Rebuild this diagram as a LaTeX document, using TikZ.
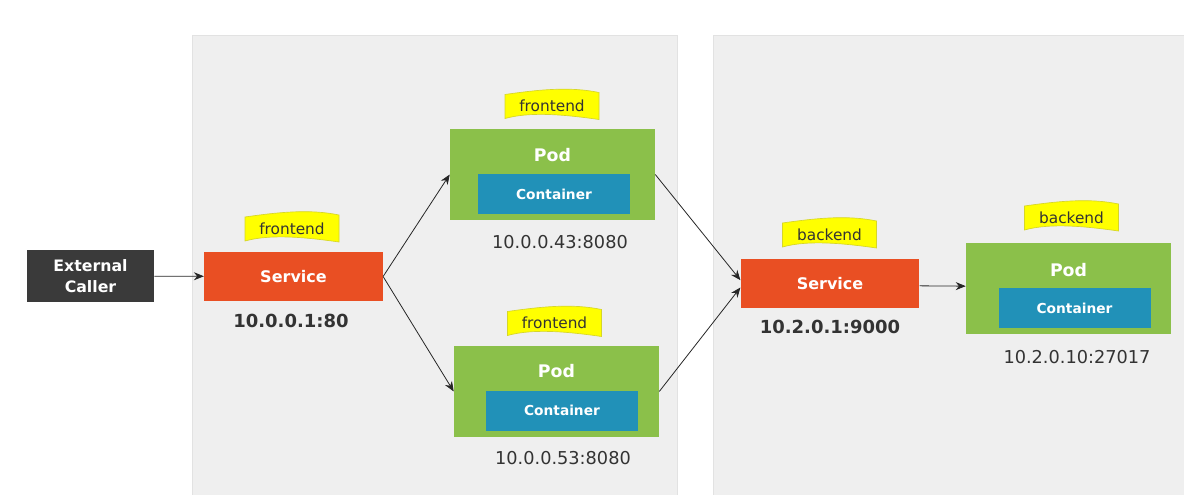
\documentclass[tikz,border=0pt]{standalone}
\usepackage{fontspec}
\setmainfont{DejaVu Sans}
\usetikzlibrary{arrows.meta}

\definecolor{panelgrey}{RGB}{239,239,239}
\definecolor{panelline}{RGB}{226,226,226}
\definecolor{svcorange}{RGB}{233,79,35}
\definecolor{podgreen}{RGB}{139,192,74}
\definecolor{ctrblue}{RGB}{33,145,184}
\definecolor{callergrey}{RGB}{58,58,58}
\definecolor{tagyellow}{RGB}{255,255,0}
\definecolor{tagline}{RGB}{214,214,40}
\definecolor{ipgrey}{RGB}{51,51,51}

\tikzset{
  panel/.style={fill=panelgrey, draw=panelline, line width=0.6pt},
  callerbox/.style={fill=callergrey, text=white, inner sep=0pt, minimum width=95.25pt, minimum height=38.25pt,
    align=center, font=\fontsize{11.8}{16}\selectfont\bfseries},
  svcbox/.style={fill=svcorange, text=white, inner sep=0pt, minimum width=134pt, minimum height=36.75pt,
    font=\fontsize{12}{14}\selectfont\bfseries},
  podbox/.style={fill=podgreen, inner sep=0pt, minimum width=153.75pt, minimum height=68.25pt},
  podtext/.style={text=white, inner sep=0pt, font=\fontsize{13}{15}\selectfont\bfseries},
  ctrbox/.style={fill=ctrblue, text=white, inner sep=0pt, minimum width=114pt, minimum height=30pt,
    font=\fontsize{10.3}{12}\selectfont\bfseries},
  iptext/.style={text=ipgrey, inner sep=0.75pt, font=\fontsize{13.3}{15}\selectfont},
  ipbold/.style={text=ipgrey, inner sep=0.75pt, font=\fontsize{13.5}{15}\selectfont\bfseries},
  tagfill/.style={fill=tagyellow, draw=tagline, line width=0.5pt},
  tagtext/.style={text=ipgrey, inner sep=0pt, font=\fontsize{11.5}{13}\selectfont},
  flow/.style={-{Stealth[length=7.5pt,width=6pt]}, draw=black!85, line width=0.6pt},
  tagflag/.pic={
    \path[tagfill] (-47,-14) .. controls (-22,-7) and (12,-10) .. (47,-15) -- (47,12)
      .. controls (18,18) and (-12,15) .. (-47,10) -- cycle;
    \node[tagtext] (-lbl) at (0,-1.5) {#1};
  }
}

\begin{document}
\begin{tikzpicture}[x=0.75pt,y=0.75pt,yscale=-1,xscale=1]
\useasboundingbox (0,0) rectangle (1184,495);

%Shape: Rectangle [left panel]
\draw[panel] (192,35) rectangle (677,498);
%Shape: Rectangle [right panel]
\draw[panel] (713,35) rectangle (1188,498);

% External caller
\node[callerbox] (caller) at (90.5,276) {External\\Caller};

% frontend service
\pic (ftsvc) at (292,227) {tagflag=frontend};
\node[svcbox] (svcfront) at (293.5,276.5) {Service};
\node[ipbold] (ipfront) at (291,321) {10.0.0.1:80};

% frontend pod (top)
\pic (ftpodA) at (552,104.5) {tagflag=frontend};
\node[podbox] (podA) at (552.5,174.5) {};
\node[podtext] (podAlbl) at (552.5,155) {Pod};
\node[ctrbox] (ctrA) at (554,194) {Container};
\node[iptext] (ipA) at (560,242) {10.0.0.43:8080};

% frontend pod (bottom)
\pic (ftpodB) at (554.5,321.5) {tagflag=frontend};
\node[podbox] (podB) at (556.5,391.5) {};
\node[podtext] (podBlbl) at (556.5,371) {Pod};
\node[ctrbox] (ctrB) at (562,410.5) {Container};
\node[iptext] (ipB) at (563,458) {10.0.0.53:8080};

% backend service
\pic (bksvc) at (829.5,233) {tagflag=backend};
\node[svcbox] (svcback) at (830,283.5) {Service};
\node[ipbold] (ipback) at (830,327) {10.2.0.1:9000};

% backend pod
\pic (bkpod) at (1071.5,216) {tagflag=backend};
\node[podbox] (podC) at (1068.5,288.5) {};
\node[podtext] (podClbl) at (1068.5,270) {Pod};
\node[ctrbox] (ctrC) at (1074.5,308) {Container};
\node[iptext] (ipC) at (1077,357) {10.2.0.10:27017};

% Connectors (yshift is flipped by yscale=-1)
\draw[flow] (caller) -- (svcfront);
\draw[flow] (svcfront.east) -- (podA.west);
\draw[flow] (svcfront.east) -- (podB.west);
\draw[flow] (podA.east) -- ([yshift=-2.5pt]svcback.west);
\draw[flow] (podB.east) -- ([yshift=3pt]svcback.west);
\draw[flow] ([yshift=1.75pt]svcback.east) -- ([yshift=-1.75pt]podC.west);

\end{tikzpicture}
\end{document}
